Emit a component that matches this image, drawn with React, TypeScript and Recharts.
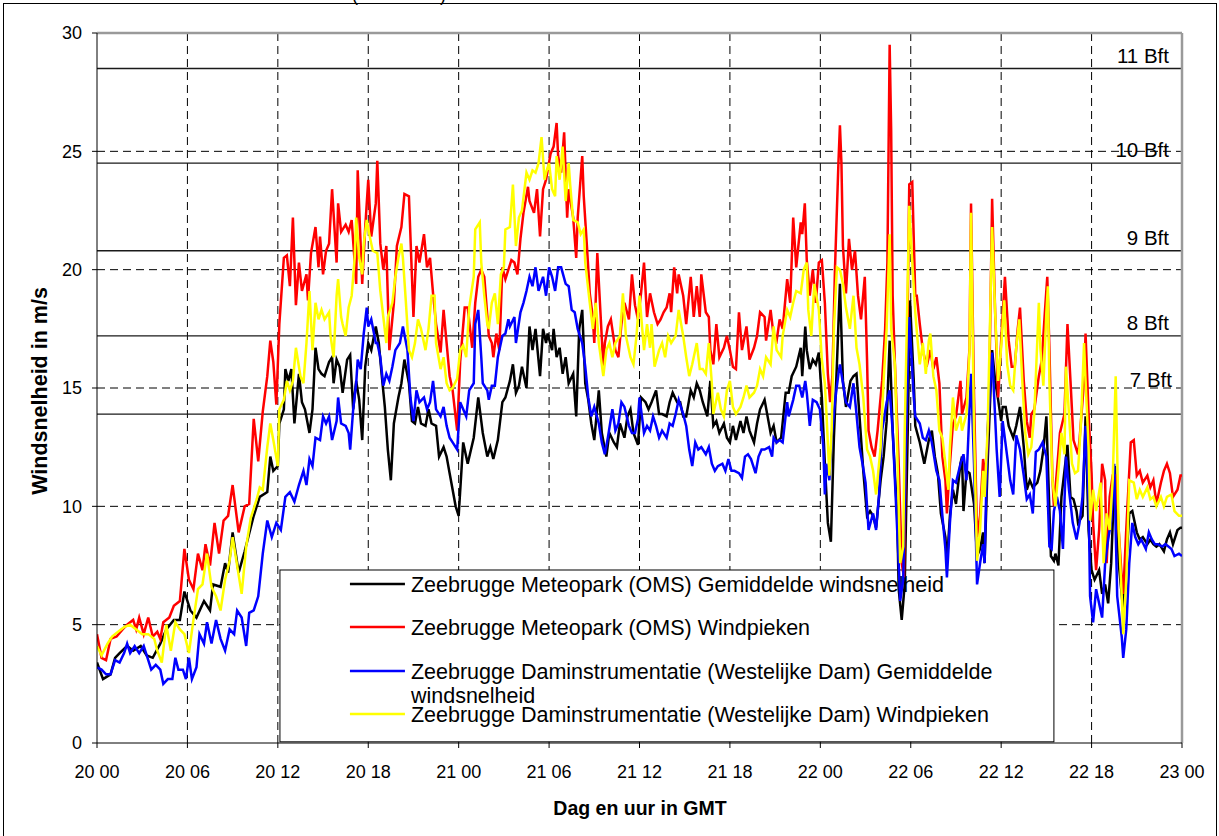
import React from 'react';
import { LineChart, Line, XAxis, YAxis, CartesianGrid, ReferenceLine, ReferenceArea } from 'recharts';

// ---- axis ticks ----
const xTicks = [0, 6, 12, 18, 24, 30, 36, 42, 48, 54, 60, 66, 72];
const xTickLabels = ['20 00', '20 06', '20 12', '20 18', '21 00', '21 06', '21 12', '21 18', '22 00', '22 06', '22 12', '22 18', '23 00'];
const yTicks = [0, 5, 10, 15, 20, 25, 30];

// ---- Beaufort thresholds ----
const beaufortLevels = [13.9, 17.2, 20.8, 24.5, 28.5];
const beaufortLabels = ['7 Bft', '8 Bft', '9 Bft', '10 Bft', '11 Bft'];

// ---- legend ----
const seriesNames = [
  'Zeebrugge Meteopark (OMS) Gemiddelde windsnelheid',
  'Zeebrugge Meteopark (OMS) Windpieken',
  'Zeebrugge Daminstrumentatie (Westelijke Dam) Gemiddelde windsnelheid',
  'Zeebrugge Daminstrumentatie (Westelijke Dam) Windpieken',
];
const seriesColors = ['#000000', '#ff0000', '#0000ff', '#ffff00'];

// ---- series: [hours since 20 00, m/s] ----
const omsMean: number[][] = [
  [0,3.4],[0.4,2.7],[0.9,2.9],[1.2,3.6],[1.5,3.8],[2.0,4.1],[2.4,3.9],[2.9,4.1],[3.3,3.7],[3.7,3.6],[4.2,4.2],[4.6,4.8],[5.1,5.2],[5.5,5.2],[5.8,6.4],[6.2,5.6],[6.6,5.3],[7.1,6.0],[7.5,5.6],[7.7,6.7],[8.2,6.6],[8.5,7.6],[8.7,7.2],[9.0,8.9],[9.4,7.2],[9.8,8.1],[10.4,9.6],[10.8,10.4],[11.3,10.6],[11.5,12.1],[11.7,11.5],[12.0,11.7],[12.1,13.5],[12.4,14.1],[12.5,15.8],[12.7,15.3],[12.9,15.8],[13.1,13.5],[13.4,15.6],[13.6,14.4],[13.8,14.1],[14.1,13.1],[14.3,14.1],[14.5,16.7],[14.7,15.8],[14.9,15.6],[15.1,15.5],[15.4,16.1],[15.6,16.3],[15.7,15.2],[15.9,16.2],[16.1,15.9],[16.3,14.8],[16.6,16.2],[16.8,16.4],[17.0,14.1],[17.2,15.3],[17.4,14.5],[17.6,12.8],[17.8,15.9],[18.0,16.9],[18.2,16.6],[18.5,17.6],[18.7,16.9],[18.9,15.5],[19.1,14.2],[19.3,12.4],[19.5,11.1],[19.7,13.5],[20.0,14.6],[20.2,15.2],[20.4,16.2],[20.7,15.2],[20.9,13.6],[21.1,13.5],[21.3,14.2],[21.5,13.5],[21.8,13.4],[22.0,14.1],[22.2,13.5],[22.5,13.4],[22.7,12.1],[23.0,12.5],[23.2,12.1],[23.4,11.4],[23.6,10.7],[23.8,10.0],[24.0,9.6],[24.3,12.7],[24.6,11.8],[25.0,12.9],[25.3,14.6],[25.6,13.1],[25.9,12.1],[26.1,12.5],[26.3,12.0],[26.6,12.8],[26.9,14.4],[27.1,14.6],[27.4,15.3],[27.6,16.0],[27.8,14.8],[28.0,15.1],[28.2,15.9],[28.5,15.0],[28.7,17.6],[28.9,16.6],[29.1,17.5],[29.4,15.5],[29.6,17.5],[29.8,16.9],[29.9,17.3],[30.2,16.6],[30.3,17.5],[30.5,16.3],[30.7,16.7],[30.9,15.6],[31.1,16.3],[31.3,15.2],[31.6,15.6],[31.8,13.8],[32.0,17.5],[32.2,18.3],[32.4,15.2],[32.6,14.5],[32.8,13.5],[33.0,12.8],[33.3,14.9],[33.5,13.1],[33.8,12.1],[34.0,13.1],[34.3,12.7],[34.5,12.5],[34.7,13.5],[35.0,12.9],[35.2,13.8],[35.4,14.1],[35.6,13.1],[35.9,12.6],[36.1,14.6],[36.4,14.4],[36.6,14.1],[36.8,14.4],[37.1,14.9],[37.3,13.9],[37.5,13.9],[37.8,13.8],[38.0,14.4],[38.2,14.8],[38.5,14.4],[38.7,14.4],[38.9,13.8],[39.1,13.8],[39.4,14.9],[39.6,14.6],[39.8,15.2],[40.0,14.9],[40.2,14.4],[40.5,13.8],[40.7,15.3],[40.9,13.4],[41.1,13.6],[41.3,13.1],[41.6,13.5],[41.8,12.9],[42.0,12.7],[42.2,13.4],[42.4,12.8],[42.7,13.6],[42.9,13.1],[43.1,13.8],[43.3,13.2],[43.6,12.7],[43.8,13.5],[44.0,14.1],[44.3,14.5],[44.5,13.8],[44.7,13.1],[44.9,13.4],[45.1,12.7],[45.4,12.9],[45.7,14.8],[45.9,14.8],[46.1,15.5],[46.4,15.9],[46.7,16.7],[46.8,15.5],[47.0,17.6],[47.1,16.6],[47.3,15.8],[47.5,16.2],[47.7,16.0],[47.9,16.5],[48.1,14.6],[48.3,11.8],[48.5,9.3],[48.7,8.5],[48.9,12.9],[49.1,16.0],[49.3,19.4],[49.5,15.3],[49.7,14.2],[50.0,15.3],[50.2,15.5],[50.4,15.6],[50.6,13.8],[50.85,11.5],[51.1,9.6],[51.3,9.8],[51.5,9.6],[51.7,9.1],[52.0,11.1],[52.2,12.1],[52.4,13.6],[52.6,17.0],[52.8,13.2],[53.1,9.6],[53.2,6.5],[53.4,5.2],[53.6,6.7],[53.8,13.2],[53.95,18.7],[54.2,15.3],[54.3,13.4],[54.6,12.7],[54.8,12.1],[54.9,11.8],[55.2,12.8],[55.4,13.2],[55.6,12.1],[55.8,11.4],[56.0,9.7],[56.3,8.7],[56.4,7.6],[56.6,9.6],[56.8,10.7],[57.0,10.1],[57.3,11.8],[57.4,12.1],[57.5,9.8],[57.7,11.5],[57.9,11.4],[58.2,10.1],[58.4,7.9],[58.6,8.2],[58.8,8.9],[58.9,7.6],[59.1,11.8],[59.4,16.6],[59.6,15.3],[59.8,14.5],[60.0,13.6],[60.1,14.2],[60.3,14.2],[60.5,13.4],[60.8,12.9],[61.0,13.4],[61.25,14.2],[61.5,12.5],[61.7,10.7],[61.9,11.1],[62.1,10.8],[62.4,11.0],[62.6,11.5],[62.8,12.4],[63.0,13.8],[63.1,11.8],[63.3,7.9],[63.5,7.7],[63.6,8.0],[63.8,7.5],[64.0,10.4],[64.2,11.5],[64.4,12.6],[64.6,10.4],[64.8,10.3],[65.0,9.8],[65.1,9.3],[65.4,9.6],[65.6,13.8],[65.8,9.0],[66.0,7.3],[66.2,6.9],[66.5,7.3],[66.7,6.3],[66.9,6.7],[67.1,5.9],[67.3,7.6],[67.55,11.7],[67.8,7.6],[68.1,5.6],[68.3,7.6],[68.5,9.7],[68.7,9.8],[69.0,8.9],[69.2,8.6],[69.4,8.7],[69.7,8.4],[69.9,8.6],[70.1,8.4],[70.3,8.3],[70.5,8.4],[70.8,8.1],[71.0,8.6],[71.2,8.9],[71.4,8.4],[71.7,9.0],[71.9,9.1],[72.0,9.1],
];

const omsGust: number[][] = [
  [0,4.6],[0.3,3.6],[0.6,3.5],[0.9,4.4],[1.3,4.5],[1.7,4.8],[2.0,5.0],[2.4,5.2],[2.6,4.8],[2.8,5.3],[3.1,4.6],[3.4,5.3],[3.7,4.5],[4.0,4.7],[4.2,4.4],[4.4,5.1],[4.8,5.3],[5.1,5.8],[5.5,6.0],[5.8,8.2],[6.1,6.9],[6.4,6.5],[6.7,8.0],[7.0,7.3],[7.2,8.4],[7.5,7.5],[7.8,9.3],[8.1,8.0],[8.4,9.4],[8.7,9.6],[9.0,10.9],[9.4,8.9],[9.8,10.0],[10.1,10.1],[10.4,13.7],[10.7,11.9],[11.0,14.0],[11.3,15.5],[11.5,17.0],[11.7,16.1],[11.9,14.3],[12.1,17.7],[12.4,20.5],[12.6,20.6],[12.8,19.3],[13.0,22.2],[13.2,18.5],[13.4,20.3],[13.6,19.1],[13.9,19.8],[14.0,18.7],[14.2,20.7],[14.5,21.8],[14.7,20.1],[14.8,21.4],[15.0,19.8],[15.2,20.8],[15.4,21.1],[15.6,23.4],[15.9,20.3],[16.0,22.8],[16.2,21.6],[16.5,21.9],[16.7,21.6],[16.9,22.1],[17.2,19.4],[17.3,24.2],[17.6,19.4],[17.8,21.8],[18.0,23.8],[18.2,21.4],[18.5,22.8],[18.6,24.6],[18.8,21.1],[19.0,20.0],[19.2,21.0],[19.4,16.6],[19.7,18.6],[19.9,21.0],[20.2,21.8],[20.4,23.2],[20.7,23.1],[20.9,19.7],[21.0,18.0],[21.2,21.0],[21.4,20.3],[21.7,21.5],[21.9,20.1],[22.1,20.5],[22.3,19.0],[22.5,17.7],[22.8,16.5],[23.0,18.3],[23.2,16.9],[23.4,15.5],[23.6,14.9],[23.9,13.2],[24.1,16.1],[24.4,18.4],[24.6,18.4],[24.9,16.7],[25.1,18.6],[25.3,19.7],[25.5,20.0],[25.7,19.7],[26.0,17.2],[26.2,16.9],[26.3,16.3],[26.5,17.3],[26.7,16.6],[26.9,20.1],[27.1,19.6],[27.3,20.0],[27.5,20.4],[27.7,20.3],[27.9,19.8],[28.1,21.3],[28.3,22.4],[28.6,23.5],[28.7,22.9],[29.0,22.4],[29.2,23.4],[29.4,21.4],[29.6,23.4],[29.8,23.8],[30.1,24.9],[30.3,25.2],[30.5,26.2],[30.6,24.8],[30.8,24.1],[31.0,25.8],[31.2,22.2],[31.3,23.4],[31.6,22.2],[31.8,20.5],[31.9,22.2],[32.2,24.8],[32.3,23.1],[32.5,21.1],[32.7,19.0],[32.9,18.0],[33.0,16.9],[33.2,20.7],[33.4,18.3],[33.6,15.9],[33.7,16.9],[33.9,17.6],[34.1,17.9],[34.4,16.6],[34.6,16.3],[34.8,17.7],[35.0,18.6],[35.3,17.9],[35.5,19.8],[35.7,18.5],[35.9,17.9],[36.1,19.0],[36.3,20.3],[36.5,18.0],[36.7,19.0],[36.96,18.2],[37.2,17.7],[37.4,17.9],[37.6,18.2],[37.8,18.4],[38.0,19.0],[38.1,18.2],[38.3,20.1],[38.5,19.0],[38.6,19.8],[38.9,18.9],[39.1,17.7],[39.4,19.7],[39.6,18.0],[39.8,19.3],[40.0,18.0],[40.1,19.8],[40.4,18.2],[40.6,18.0],[40.7,16.6],[40.9,16.0],[41.1,17.7],[41.3,16.3],[41.6,16.7],[41.8,17.2],[42.0,16.6],[42.2,15.9],[42.4,15.8],[42.6,18.2],[42.8,16.6],[43.1,17.6],[43.3,16.2],[43.6,16.7],[43.8,17.2],[44.0,18.2],[44.3,18.0],[44.4,17.0],[44.7,18.3],[44.9,17.2],[45.1,17.0],[45.3,17.9],[45.5,17.5],[45.8,19.6],[46.0,18.6],[46.2,22.2],[46.4,20.1],[46.7,22.0],[46.8,21.5],[46.97,22.8],[47.1,20.4],[47.3,18.9],[47.5,20.0],[47.7,18.6],[47.9,20.3],[48.1,20.4],[48.3,18.6],[48.5,15.6],[48.65,14.4],[48.8,15.5],[48.97,20.0],[49.2,24.5],[49.3,26.1],[49.4,24.5],[49.5,21.0],[49.7,19.0],[49.9,21.3],[50.1,20.0],[50.3,20.8],[50.5,18.9],[50.7,17.9],[50.95,19.7],[51.1,16.2],[51.2,13.2],[51.4,12.5],[51.6,12.1],[51.8,13.2],[52.1,15.3],[52.3,17.5],[52.45,20.3],[52.6,29.5],[52.7,25.9],[52.8,18.9],[52.95,16.0],[53.2,11.8],[53.4,7.6],[53.55,7.0],[53.7,13.2],[53.9,23.6],[54.1,23.7],[54.3,18.9],[54.4,18.9],[54.6,17.7],[54.8,16.6],[55.05,15.9],[55.3,16.6],[55.5,15.8],[55.7,16.3],[55.9,15.2],[56.1,12.1],[56.3,11.1],[56.4,9.7],[56.6,11.8],[56.8,13.5],[57.0,13.8],[57.3,15.3],[57.4,13.9],[57.7,14.6],[57.9,16.7],[58.0,22.8],[58.2,14.6],[58.4,8.7],[58.6,9.6],[58.8,12.0],[59.0,11.1],[59.2,14.6],[59.4,23.0],[59.6,18.2],[59.8,14.6],[60.0,17.0],[60.25,19.7],[60.5,17.0],[60.7,15.9],[60.9,15.9],[61.1,17.5],[61.25,18.4],[61.5,15.3],[61.7,13.6],[61.9,12.9],[62.0,13.9],[62.2,14.1],[62.5,15.5],[62.7,16.2],[62.9,18.2],[63.06,19.7],[63.2,16.7],[63.4,11.2],[63.5,10.0],[63.7,11.5],[63.9,13.1],[64.2,13.9],[64.4,17.7],[64.6,15.3],[64.8,12.8],[65.1,12.2],[65.2,12.8],[65.5,15.3],[65.6,17.3],[65.8,13.9],[66.0,11.4],[66.1,9.3],[66.3,7.3],[66.5,9.0],[66.7,11.8],[66.9,11.1],[67.0,7.6],[67.2,10.4],[67.4,11.3],[67.6,11.3],[67.8,9.0],[68.0,7.0],[68.1,6.3],[68.3,9.0],[68.6,12.7],[68.8,12.8],[69.0,11.3],[69.2,11.5],[69.4,11.0],[69.7,11.3],[69.9,10.8],[70.1,11.1],[70.3,10.1],[70.6,11.0],[70.8,11.5],[71.0,11.8],[71.2,11.4],[71.4,10.4],[71.7,10.7],[71.9,11.3],[72.0,11.3],
];

const damMean: number[][] = [
  [0,3.2],[0.3,3.1],[0.6,2.9],[0.9,2.9],[1.2,3.5],[1.5,3.4],[1.8,3.8],[2.0,4.2],[2.2,3.8],[2.5,4.1],[2.8,3.8],[3.1,4.1],[3.4,3.5],[3.6,3.1],[3.9,3.3],[4.2,3.1],[4.4,2.5],[4.7,2.7],[5.0,2.7],[5.2,3.6],[5.4,3.1],[5.7,3.1],[5.9,2.7],[6.1,3.6],[6.3,2.7],[6.6,3.2],[6.8,4.6],[7.1,4.2],[7.3,5.1],[7.6,4.2],[7.9,5.2],[8.2,4.4],[8.5,3.9],[8.8,4.8],[9.1,4.6],[9.3,5.6],[9.6,5.3],[9.9,4.1],[10.1,5.5],[10.4,5.6],[10.7,6.2],[11.0,8.0],[11.3,9.4],[11.6,8.7],[11.9,9.3],[12.2,9.0],[12.5,10.4],[12.8,10.6],[13.1,10.2],[13.4,10.9],[13.7,11.5],[13.9,10.9],[14.1,12.0],[14.3,11.7],[14.5,12.9],[14.8,12.8],[15.0,13.8],[15.2,13.5],[15.4,13.8],[15.6,12.8],[15.9,13.6],[16.0,14.6],[16.2,13.5],[16.5,13.4],[16.7,13.1],[16.8,12.4],[17.0,14.1],[17.2,15.2],[17.3,16.2],[17.5,15.8],[17.7,17.3],[17.9,18.4],[18.0,17.6],[18.2,17.9],[18.5,16.9],[18.6,16.9],[18.8,16.3],[19.0,15.1],[19.2,15.6],[19.4,15.3],[19.6,15.9],[19.8,16.6],[20.1,16.9],[20.3,17.6],[20.6,16.6],[20.8,14.6],[21.0,13.6],[21.2,14.9],[21.4,14.4],[21.7,14.6],[21.9,14.1],[22.1,14.4],[22.3,15.3],[22.5,14.1],[22.8,13.8],[23.0,14.2],[23.2,13.4],[23.4,12.9],[23.6,12.7],[23.9,12.4],[24.1,14.4],[24.3,14.1],[24.5,13.8],[24.7,14.9],[25.0,15.2],[25.1,17.7],[25.3,18.3],[25.5,16.3],[25.6,15.2],[25.9,14.9],[26.0,14.5],[26.2,15.1],[26.4,15.1],[26.6,16.3],[26.9,17.2],[27.1,17.3],[27.3,17.9],[27.4,17.6],[27.7,18.0],[27.8,16.9],[28.1,18.2],[28.3,18.6],[28.5,19.1],[28.7,19.7],[28.9,19.3],[29.1,20.1],[29.3,19.1],[29.6,19.7],[29.8,18.9],[30.0,20.1],[30.2,19.7],[30.4,19.1],[30.6,20.1],[30.8,20.1],[31.1,19.4],[31.3,19.3],[31.5,18.3],[31.7,18.2],[31.9,17.5],[32.2,16.9],[32.4,15.9],[32.6,14.6],[32.8,13.8],[33.0,14.2],[33.3,13.5],[33.5,12.7],[33.7,12.2],[33.9,12.9],[34.2,14.1],[34.4,13.2],[34.6,13.5],[34.8,14.4],[35.0,14.2],[35.3,13.4],[35.5,13.1],[35.7,13.1],[35.9,13.7],[36.0,14.6],[36.3,13.1],[36.5,13.4],[36.7,13.2],[36.9,13.8],[37.1,13.4],[37.3,12.9],[37.5,13.2],[37.8,12.9],[38.0,13.5],[38.2,13.4],[38.4,13.9],[38.6,14.5],[38.9,13.9],[39.1,13.4],[39.3,12.4],[39.5,11.7],[39.7,12.7],[39.9,12.4],[40.1,12.5],[40.4,12.2],[40.6,12.5],[40.8,11.8],[41.0,11.5],[41.2,11.7],[41.5,11.8],[41.7,11.5],[41.9,12.0],[42.1,11.5],[42.3,11.5],[42.6,11.4],[42.8,11.2],[43.0,12.1],[43.2,12.2],[43.4,12.0],[43.7,11.4],[43.9,12.1],[44.1,12.4],[44.3,12.4],[44.6,12.5],[44.8,12.1],[44.9,12.9],[45.1,12.7],[45.3,12.8],[45.5,12.7],[45.8,14.4],[45.9,13.8],[46.2,14.5],[46.4,15.1],[46.6,15.1],[46.8,14.6],[47.0,15.3],[47.1,14.8],[47.3,13.4],[47.5,14.5],[47.75,14.4],[47.97,14.1],[48.2,12.5],[48.3,10.5],[48.4,11.8],[48.6,11.1],[48.75,12.9],[48.97,14.4],[49.2,15.6],[49.3,16.0],[49.5,15.2],[49.7,14.4],[49.96,14.2],[50.2,15.2],[50.4,13.9],[50.6,12.5],[50.8,11.8],[51.0,11.0],[51.2,9.0],[51.5,9.7],[51.7,9.0],[51.9,10.5],[52.1,13.2],[52.4,14.4],[52.6,14.9],[52.8,13.2],[53.0,10.4],[53.2,7.6],[53.3,6.0],[53.5,6.9],[53.7,13.2],[53.9,18.0],[54.2,14.6],[54.3,13.8],[54.6,13.5],[54.8,12.9],[55.0,12.8],[55.2,13.2],[55.4,12.7],[55.7,11.5],[55.9,11.1],[56.1,9.6],[56.3,8.2],[56.4,7.0],[56.6,9.3],[56.8,11.1],[57.0,11.0],[57.3,11.8],[57.5,12.2],[57.7,11.1],[58.0,15.6],[58.2,11.8],[58.4,6.7],[58.6,7.6],[58.8,8.4],[58.9,7.6],[59.1,13.2],[59.4,16.5],[59.7,12.4],[59.9,10.4],[60.1,13.6],[60.4,12.1],[60.6,11.1],[60.8,10.5],[61.0,13.0],[61.25,12.4],[61.5,11.3],[61.7,10.3],[61.9,10.5],[62.1,9.7],[62.3,12.3],[62.5,12.4],[62.75,12.7],[63.0,12.1],[63.2,8.3],[63.35,8.2],[63.5,9.8],[63.7,10.4],[63.9,9.8],[64.1,8.2],[64.3,12.1],[64.5,10.7],[64.75,9.3],[65.0,8.6],[65.2,9.3],[65.4,10.4],[65.6,13.4],[65.8,10.4],[65.9,6.2],[66.1,5.1],[66.3,6.5],[66.5,5.9],[66.7,5.3],[66.9,7.6],[67.1,8.6],[67.3,9.4],[67.5,11.8],[67.7,6.2],[68.0,4.5],[68.1,3.6],[68.3,4.8],[68.5,7.6],[68.7,9.3],[68.9,8.7],[69.1,8.4],[69.3,8.6],[69.6,8.2],[69.8,8.9],[70.0,8.6],[70.2,8.4],[70.4,8.4],[70.7,8.3],[70.9,8.4],[71.1,8.3],[71.3,8.2],[71.5,7.9],[71.8,8.0],[72.0,7.9],
];

const damGust: number[][] = [
  [0,4.1],[0.3,3.7],[0.7,4.2],[1.0,4.5],[1.4,4.7],[1.8,4.9],[2.2,5.0],[2.6,4.8],[3.0,4.6],[3.4,4.6],[3.8,4.4],[4.0,3.9],[4.3,3.4],[4.6,5.0],[4.9,3.9],[5.2,5.1],[5.5,4.8],[5.8,4.6],[6.1,3.8],[6.4,5.2],[6.7,6.5],[7.0,6.7],[7.3,8.0],[7.6,6.6],[7.9,6.2],[8.2,5.6],[8.5,6.9],[8.8,7.7],[9.0,8.7],[9.3,7.5],[9.6,6.3],[9.9,8.3],[10.2,9.5],[10.6,10.3],[10.8,10.8],[11.0,10.7],[11.3,12.5],[11.5,13.5],[11.7,12.8],[12.0,11.7],[12.1,14.1],[12.4,14.5],[12.6,15.3],[12.8,14.9],[13.0,15.3],[13.2,16.7],[13.5,15.5],[13.7,15.2],[13.9,16.9],[14.1,19.1],[14.3,16.6],[14.5,18.6],[14.7,17.9],[14.9,18.3],[15.1,17.9],[15.4,18.2],[15.5,17.2],[15.7,16.3],[15.9,18.9],[16.0,19.6],[16.2,18.0],[16.3,17.7],[16.5,17.2],[16.7,18.4],[16.9,18.9],[17.1,20.5],[17.2,22.2],[17.4,20.5],[17.6,19.8],[17.7,21.1],[17.9,22.1],[18.1,21.4],[18.3,20.8],[18.6,20.7],[18.8,19.1],[19.0,18.0],[19.2,16.9],[19.3,18.0],[19.6,18.6],[19.8,19.7],[20.0,20.5],[20.2,21.1],[20.3,20.5],[20.5,18.6],[20.7,16.6],[20.9,16.3],[21.1,16.9],[21.3,17.9],[21.5,17.5],[21.8,16.6],[22.0,17.5],[22.2,18.9],[22.4,18.9],[22.5,16.9],[22.8,15.8],[23.0,16.3],[23.2,15.2],[23.4,14.9],[23.6,15.0],[23.9,15.4],[24.1,16.6],[24.3,16.8],[24.5,16.3],[24.7,18.4],[25.0,19.7],[25.1,21.7],[25.4,22.0],[25.5,20.3],[25.7,18.9],[25.9,17.7],[26.0,17.5],[26.2,18.6],[26.4,19.0],[26.6,17.7],[26.8,19.8],[27.0,20.1],[27.1,21.7],[27.4,21.8],[27.6,23.6],[27.8,21.0],[28.0,22.2],[28.2,22.5],[28.5,24.1],[28.7,23.8],[28.9,24.2],[29.1,24.1],[29.3,24.5],[29.5,25.6],[29.7,23.8],[29.8,24.1],[30.0,24.5],[30.2,23.4],[30.4,23.1],[30.5,24.8],[30.7,23.8],[30.9,25.2],[31.1,22.9],[31.3,24.5],[31.4,23.6],[31.6,22.1],[31.9,22.0],[32.1,21.5],[32.3,21.7],[32.4,20.3],[32.7,18.6],[32.9,17.5],[33.1,18.6],[33.3,16.9],[33.6,15.5],[33.8,16.6],[34.0,16.9],[34.2,16.3],[34.4,16.9],[34.7,17.2],[34.9,19.0],[35.1,17.2],[35.4,16.3],[35.6,16.0],[35.8,17.2],[36.0,18.9],[36.3,16.6],[36.5,17.7],[36.7,16.7],[36.8,17.7],[37.0,15.9],[37.3,16.6],[37.5,16.9],[37.7,16.3],[37.9,17.2],[38.1,16.9],[38.4,17.2],[38.6,18.3],[38.9,17.2],[39.1,16.3],[39.3,15.5],[39.5,16.0],[39.8,16.9],[40.0,15.8],[40.2,15.8],[40.4,15.6],[40.6,16.9],[40.8,15.2],[40.9,13.9],[41.2,14.8],[41.4,14.1],[41.6,13.8],[41.8,14.9],[42.0,15.3],[42.2,14.2],[42.4,13.9],[42.7,14.2],[42.9,14.6],[43.1,15.1],[43.3,14.6],[43.6,14.8],[43.8,15.1],[44.0,15.8],[44.2,15.5],[44.4,16.3],[44.7,16.0],[44.9,17.6],[45.1,16.6],[45.4,16.3],[45.5,17.2],[45.8,18.3],[46.0,18.0],[46.2,18.6],[46.4,19.1],[46.7,19.0],[46.9,20.0],[47.1,20.3],[47.2,18.3],[47.4,17.2],[47.6,19.4],[47.9,18.3],[48.1,16.2],[48.3,15.2],[48.4,14.0],[48.6,11.3],[48.75,13.2],[48.9,17.5],[49.1,20.1],[49.3,20.0],[49.5,19.4],[49.7,18.4],[49.96,17.5],[50.2,18.9],[50.4,16.7],[50.6,16.0],[50.85,14.6],[51.1,12.4],[51.3,12.1],[51.5,11.5],[51.7,10.5],[52.0,12.5],[52.2,15.3],[52.4,17.5],[52.6,21.5],[52.7,17.5],[52.95,16.0],[53.1,12.5],[53.3,7.6],[53.5,8.3],[53.6,13.2],[53.9,22.7],[54.1,20.3],[54.3,18.2],[54.4,17.4],[54.6,16.0],[54.8,16.9],[55.0,15.6],[55.2,17.0],[55.3,17.3],[55.5,15.5],[55.7,14.9],[55.9,13.2],[56.1,12.9],[56.3,11.8],[56.5,10.7],[56.6,12.5],[56.8,14.6],[57.0,13.2],[57.3,13.8],[57.4,13.2],[57.7,13.9],[57.9,16.6],[58.0,22.4],[58.2,13.2],[58.4,7.7],[58.6,9.0],[58.8,11.5],[58.9,10.4],[59.1,13.2],[59.4,21.8],[59.6,18.2],[59.8,15.3],[60.0,16.7],[60.2,18.7],[60.4,16.0],[60.6,15.1],[60.8,14.9],[61.0,16.7],[61.2,17.9],[61.4,15.3],[61.6,13.1],[61.8,12.2],[62.0,12.5],[62.2,13.9],[62.5,18.6],[62.6,16.7],[62.8,15.1],[63.0,18.2],[63.1,19.3],[63.2,15.3],[63.4,11.1],[63.6,10.0],[63.8,11.5],[64.0,13.1],[64.2,12.2],[64.3,15.9],[64.5,13.9],[64.7,11.8],[64.9,11.4],[65.1,11.5],[65.3,13.6],[65.5,16.9],[65.6,15.3],[65.8,12.5],[65.9,9.4],[66.1,10.7],[66.3,9.8],[66.6,11.0],[66.8,7.6],[67.0,9.7],[67.2,9.0],[67.4,11.1],[67.6,15.5],[67.8,9.0],[68.0,6.2],[68.1,4.6],[68.3,6.9],[68.5,11.1],[68.8,11.0],[69.0,10.3],[69.2,10.7],[69.4,10.4],[69.7,10.8],[69.9,10.3],[70.1,10.4],[70.3,10.0],[70.6,10.4],[70.8,10.0],[71.0,10.4],[71.3,10.5],[71.5,9.8],[71.8,9.6],[72.0,9.6],
];

const seriesData = [omsMean, omsGust, damMean, damGust];

// ---- layout / style ----
const W = 1219;
const H = 836;
const FONT = '"Liberation Sans", Arial, Helvetica, sans-serif';
const legendBox = { x1: 12.14, x2: 63.5, y1: 0.05, y2: 7.31 }; // legend frame in axis units
const legendRowBaselines = [[22], [65], [109, 133], [152]];
const legendLines = [
  [seriesNames[0]],
  [seriesNames[1]],
  ['Zeebrugge Daminstrumentatie (Westelijke Dam) Gemiddelde', 'windsnelheid'],
  [seriesNames[3]],
];

const toPoints = (arr: number[][]) => arr.map(([t, v]) => ({ t, v }));

const LegendShape = (p: any) => {
  const { x, y, width, height } = p;
  return (
    <g>
      <rect x={x} y={y} width={width} height={height} fill="#ffffff" stroke="#000000" strokeWidth={1} />
      {legendLines.map((lines, i) => (
        <g key={i}>
          <line
            x1={x + 70}
            x2={x + 125}
            y1={y + legendRowBaselines[i][0] - 8}
            y2={y + legendRowBaselines[i][0] - 8}
            stroke={seriesColors[i]}
            strokeWidth={2.5}
          />
          {lines.map((ln, j) => (
            <text key={j} x={x + 131} y={y + legendRowBaselines[i][j]} fontSize={21.5} fontFamily={FONT} fill="#000">
              {ln}
            </text>
          ))}
        </g>
      ))}
    </g>
  );
};

const bftLabel = (i: number) => (props: any) => {
  const vb = props.viewBox || {};
  const dy = i === 0 ? -27 : -6;
  const dx = i === 0 ? -10 : -13;
  return (
    <text x={vb.x + vb.width + dx} y={vb.y + dy} textAnchor="end" fontSize={20.5} fontFamily={FONT} fill="#000">
      {beaufortLabels[i]}
    </text>
  );
};

export default function App() {
  return (
    <div style={{ position: 'absolute', left: 0, top: 0, width: W, height: H, overflow: 'hidden', background: '#fff' }}>
      <LineChart
        width={W}
        height={H}
        margin={{ top: 33, right: 37, bottom: 33, left: 37 }}
        style={{ position: 'absolute', left: 0, top: 0 }}
      >
        <CartesianGrid
          stroke="#000"
          strokeDasharray="8 5"
          strokeWidth={1}
          horizontalValues={[5, 10, 15, 20, 25]}
          verticalValues={[6, 12, 18, 24, 30, 36, 42, 48, 54, 60, 66]}
        />
        <XAxis
          type="number"
          dataKey="t"
          domain={[0, 72]}
          ticks={xTicks}
          tickFormatter={(v: number) => xTickLabels[xTicks.indexOf(v)]}
          allowDataOverflow
          height={60}
          stroke="#000"
          tickSize={5}
          tickMargin={17}
          tick={{ fontSize: 18, fill: '#000', fontFamily: FONT }}
          interval={0}
        />
        <YAxis
          type="number"
          domain={[0, 30]}
          ticks={yTicks}
          allowDataOverflow
          width={60}
          stroke="#000"
          tickSize={5}
          tickMargin={10}
          tick={{ fontSize: 18, fill: '#000', fontFamily: FONT }}
          interval={0}
        />
        <ReferenceArea
          x1={legendBox.x1}
          x2={legendBox.x2}
          y1={legendBox.y1}
          y2={legendBox.y2}
          shape={LegendShape}
          ifOverflow="visible"
        />
        {beaufortLevels.map((lv, i) => (
          <ReferenceLine key={lv} y={lv} stroke="#1a1a1a" strokeWidth={1.3} label={bftLabel(i)} />
        ))}
        <ReferenceLine y={30} stroke="#9a9a9a" strokeWidth={2.5} />
        <ReferenceLine x={72} stroke="#9a9a9a" strokeWidth={2.5} />
        {seriesData.map((s, i) => (
          <Line
            key={i}
            data={toPoints(s)}
            dataKey="v"
            type="linear"
            stroke={seriesColors[i]}
            strokeWidth={2.5}
            dot={false}
            activeDot={false}
            isAnimationActive={false}
            name={seriesNames[i]}
          />
        ))}
      </LineChart>
      <svg width={W} height={H} style={{ position: 'absolute', left: 0, top: 0, pointerEvents: 'none' }}>
        <rect x={3.5} y={3.5} width={1213} height={900} fill="none" stroke="#000" strokeWidth={1} />
        <text x={352} y={1} fontSize={18} fontFamily={FONT} fill="#000">(</text>
        <text x={440} y={1} fontSize={18} fontFamily={FONT} fill="#000">)</text>
        <text
          transform="translate(47,391) rotate(-90)"
          textAnchor="middle"
          fontSize={21.5}
          fontWeight="bold"
          fontFamily={FONT}
          fill="#000"
        >
          Windsnelheid in m/s
        </text>
        <text x={640} y={815} textAnchor="middle" fontSize={19.5} fontWeight="bold" fontFamily={FONT} fill="#000">
          Dag en uur in GMT
        </text>
      </svg>
    </div>
  );
}
